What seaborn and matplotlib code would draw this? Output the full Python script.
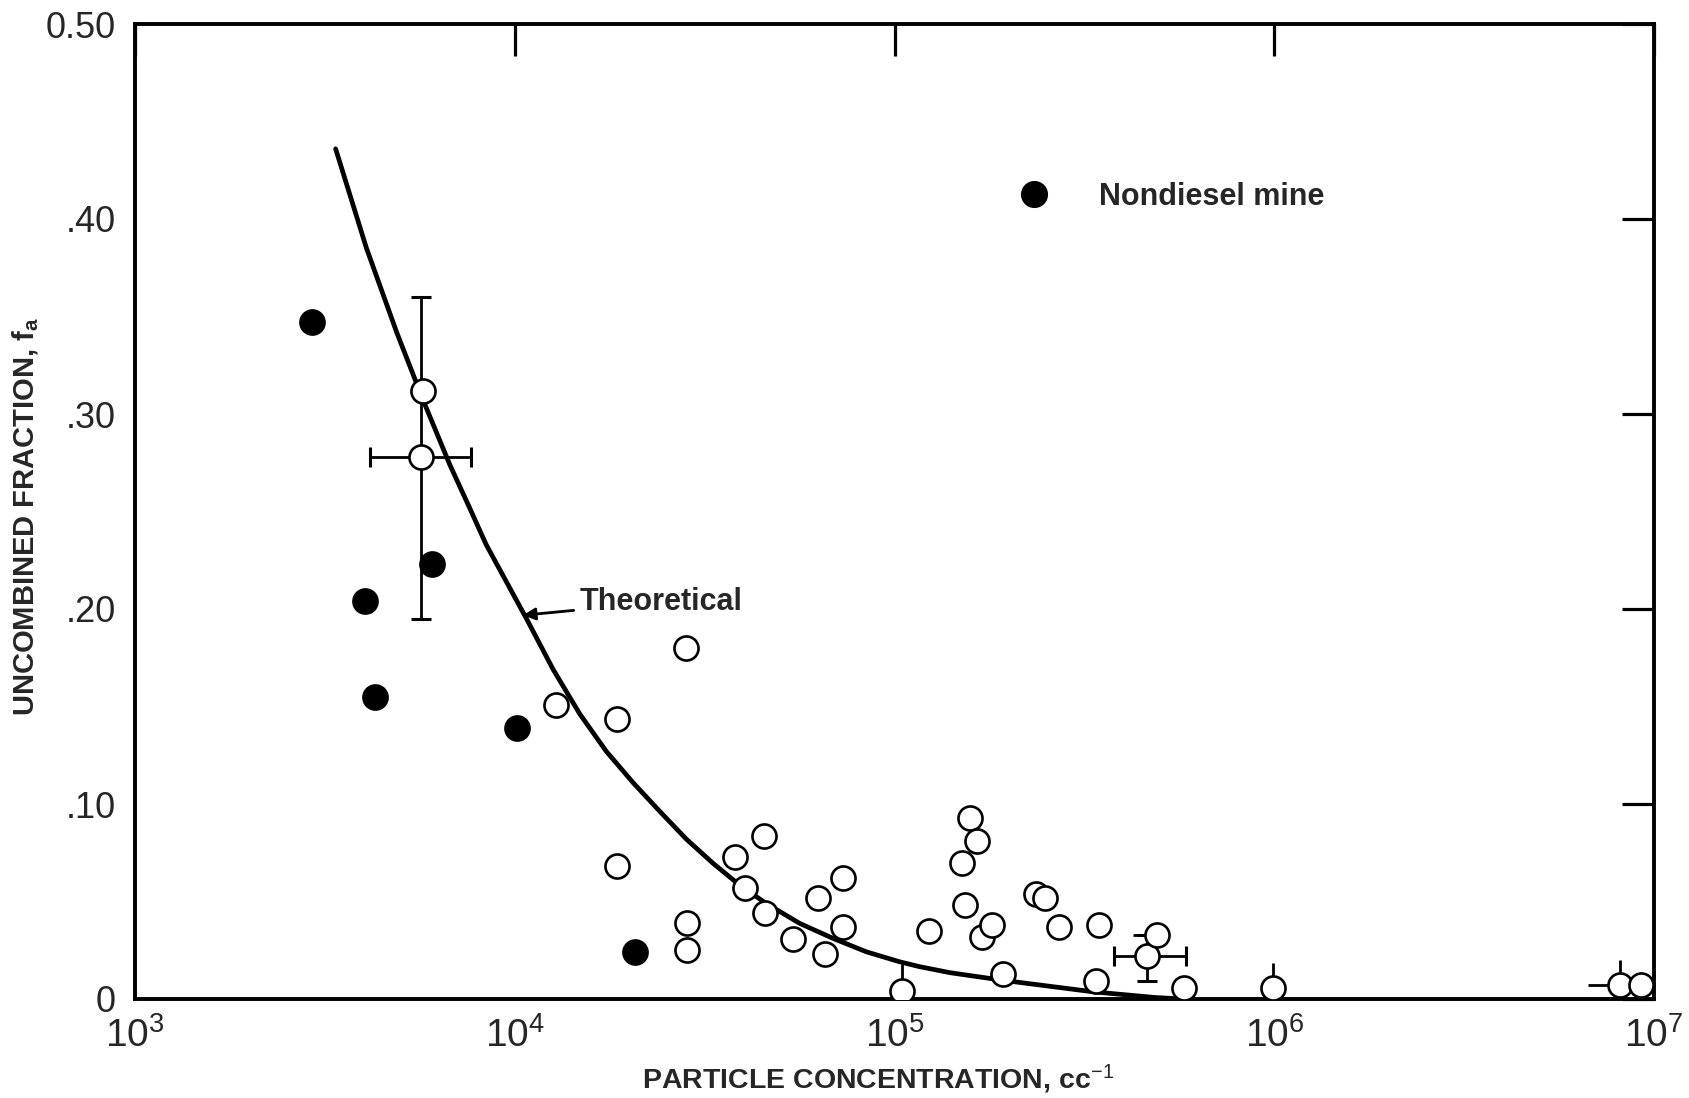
import numpy as np
import pandas as pd
import matplotlib
matplotlib.use("Agg")
import matplotlib.pyplot as plt
from matplotlib import font_manager
from matplotlib.lines import Line2D
import seaborn as sns

# ---------------- data ----------------
filled_conc = [2930, 4030, 4280, 6050, 10140, 20700]
filled_frac = [0.347, 0.204, 0.155, 0.223, 0.139, 0.024]

open_conc = [5740, 5680, 12830, 18580, 18580, 28300, 28400, 28400,
             38100, 40400, 45300, 45600, 54000, 62800, 65500, 73300, 73300,
             104500, 123500, 150800, 153000, 157800, 164500, 170000, 180300,
             193200, 235400, 249500, 270500, 339000, 345000, 461000, 491000,
             580000, 993000, 8150000, 9270000]
open_frac = [0.312, 0.278, 0.151, 0.1435, 0.068, 0.180, 0.039, 0.025,
             0.073, 0.057, 0.0835, 0.044, 0.031, 0.052, 0.023, 0.062, 0.037,
             0.004, 0.035, 0.070, 0.048, 0.093, 0.081, 0.032, 0.038,
             0.013, 0.054, 0.052, 0.037, 0.009, 0.038, 0.022, 0.033,
             0.0055, 0.0055, 0.0072, 0.0072]

theory_conc = [3375, 4070, 4885, 5740, 6745, 7600, 8410, 10740, 12620,
               14830, 17420, 20480, 24100, 28300, 33270, 39100, 45930,
               56250, 68860, 84300, 103100, 116300, 140000, 191000, 333000,
               483000, 570000]
theory_frac = [0.436, 0.385, 0.342, 0.307, 0.274, 0.252, 0.233, 0.195, 0.169,
               0.1462, 0.127, 0.111, 0.0962, 0.082, 0.0696, 0.0584, 0.049,
               0.0388, 0.0311, 0.0242, 0.0191, 0.0166, 0.0135, 0.0097, 0.0037,
               0.0008, 0.0]

# error bars: point, x lower/upper, y lower/upper
err_conc = [5680, 461000, 104500, 993000, 8150000, 9270000, 491000]
err_frac = [0.278, 0.022, 0.004, 0.0055, 0.0072, 0.0072, 0.033]
xerr_lo = [1530, 83000, 0, 0, 1450000, 0, 66000]
xerr_hi = [2010, 126000, 0, 0, 0, 730000, 0]
yerr_lo = [0.083, 0.013, 0.0, 0.013, 0.013, 0.0, 0.0]
yerr_hi = [0.082, 0.011, 0.014, 0.013, 0.013, 0.0, 0.0]
err_caps = [True, True, False, False, False, False, False]

y_ticks = [0, 0.1, 0.2, 0.3, 0.4, 0.5]
y_ticklabels = ["0", ".10", ".20", ".30", ".40", "0.50"]
x_ticks = [1e3, 1e4, 1e5, 1e6, 1e7]
x_ticklabels = [r"$10^{3}$", r"$10^{4}$", r"$10^{5}$", r"$10^{6}$", r"$10^{7}$"]

# ---------------- style ----------------
sns.set_style("white")
available = {f.name for f in font_manager.fontManager.ttflist}
narrow = "Liberation Sans Narrow" if "Liberation Sans Narrow" in available else "Liberation Sans"
plt.rcParams["font.family"] = ["Liberation Sans", "DejaVu Sans"]
plt.rcParams["mathtext.fontset"] = "custom"
plt.rcParams["mathtext.rm"] = "Liberation Sans"
plt.rcParams["mathtext.it"] = "Liberation Sans:italic"
plt.rcParams["mathtext.bf"] = "Liberation Sans:bold"

fig = plt.figure(figsize=(16.9, 10.98), dpi=100)
ax = fig.add_axes([135 / 1690, 99 / 1098, 1519 / 1690, 975 / 1098])

df_filled = pd.DataFrame({"conc": filled_conc, "frac": filled_frac})
df_open = pd.DataFrame({"conc": open_conc, "frac": open_frac})
df_theory = pd.DataFrame({"conc": theory_conc, "frac": theory_frac})

# theoretical curve
sns.lineplot(data=df_theory, x="conc", y="frac", ax=ax, color="black",
             linewidth=3.4, sort=False, estimator=None, zorder=3)

# error bars
for i in range(len(err_conc)):
    xe = [[xerr_lo[i]], [xerr_hi[i]]] if (xerr_lo[i] or xerr_hi[i]) else None
    ye = [[yerr_lo[i]], [yerr_hi[i]]] if (yerr_lo[i] or yerr_hi[i]) else None
    ax.errorbar([err_conc[i]], [err_frac[i]], xerr=xe, yerr=ye, fmt="none",
                ecolor="black", elinewidth=2.0,
                capsize=7 if err_caps[i] else 0, capthick=2.2, zorder=2)

# open circles
sns.scatterplot(data=df_open, x="conc", y="frac", ax=ax, marker="o", s=300,
                facecolor="white", edgecolor="black", linewidth=1.9,
                zorder=4, legend=False)
# filled circles
sns.scatterplot(data=df_filled, x="conc", y="frac", ax=ax, marker="o", s=370,
                color="black", edgecolor="black", linewidth=0,
                zorder=5, legend=False)

ax.set_xscale("log")
ax.set_xlim(1e3, 1e7)
ax.set_ylim(0, 0.5)
ax.set_xticks(x_ticks)
ax.set_xticklabels(x_ticklabels, fontsize=28)
ax.set_yticks(y_ticks)
ax.set_yticklabels(y_ticklabels, fontsize=26)
ax.minorticks_off()
ax.tick_params(axis="both", which="major", direction="in", length=23,
               width=2.3, top=True, right=True, color="black")
ax.tick_params(axis="x", pad=13)
ax.tick_params(axis="y", pad=14)

for sp in ax.spines.values():
    sp.set_visible(True)
    sp.set_linewidth(2.8)
    sp.set_color("black")

ax.set_xlabel(r"PARTICLE CONCENTRATION, cc$^{-1}$", fontsize=20.5,
              family=[narrow, "DejaVu Sans"], fontweight="bold")
ax.xaxis.set_label_coords(0.489, -0.065)
ax.set_ylabel(r"UNCOMBINED FRACTION, $\mathbf{f_a}$", fontsize=21,
              family=[narrow, "DejaVu Sans"], fontweight="bold")
ax.yaxis.set_label_coords(-0.062, 0.495)

# annotation for theoretical curve
ax.annotate("Theoretical", xy=(10520, 0.1968), xytext=(14830, 0.2036),
            fontsize=22, fontweight="bold", family=["Liberation Sans", "DejaVu Sans"],
            va="center", ha="left",
            arrowprops=dict(arrowstyle="-|>", color="black", lw=2.0,
                            mutation_scale=18, shrinkA=2, shrinkB=0))

# legend
handle = Line2D([], [], marker="o", color="black", linestyle="",
                markersize=18.5)
leg = ax.legend([handle], ["Nondiesel mine"], loc="center left",
                bbox_to_anchor=(0.5715, 0.8224), frameon=False,
                borderpad=0, handlelength=1.0, handletextpad=1.65,
                prop={"family": "Liberation Sans", "weight": "bold", "size": 22})

fig.savefig("out.png", dpi=100, facecolor="white")
